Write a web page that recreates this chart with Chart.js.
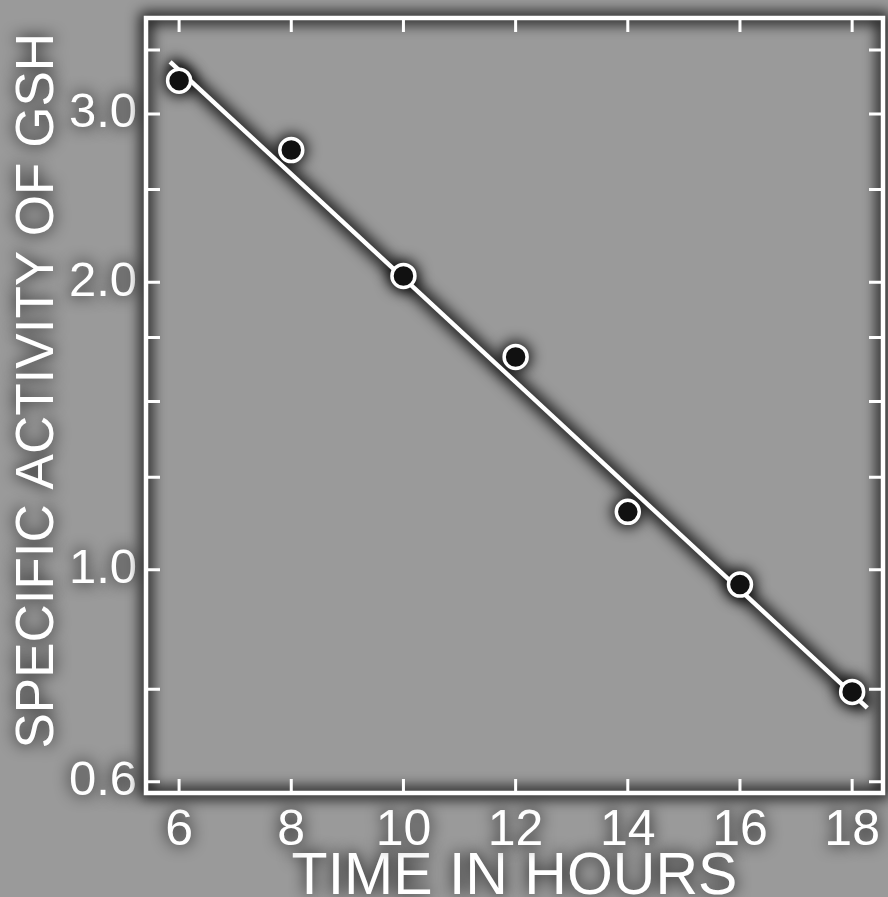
<!DOCTYPE html>
<html>
<head>
<meta charset="utf-8">
<script src="https://cdn.jsdelivr.net/npm/chart.js@4"></script>
<style>
  html, body { margin: 0; padding: 0; background: #9a9a9a; }
  #wrap { width: 888px; height: 897px; }
</style>
</head>
<body>
<div id="wrap"><canvas id="c" width="888" height="897"></canvas></div>
<script>
// ---- data ----
const hours = [6, 8, 10, 12, 14, 16, 18];
const activity = [3.25, 2.75, 2.03, 1.67, 1.15, 0.965, 0.745];
// fitted straight line (on log scale), end points
const fitHours = [5.84, 18.27];
const fitActivity = [3.40, 0.717];
// tick positions / labels
const xTicks = [6, 8, 10, 12, 14, 16, 18];
const yTicks = [0.6, 0.75, 1.0, 1.25, 1.5, 1.75, 2.0, 2.5, 3.0, 3.5];
const yTickLabels = {0.6: '0.6', 1: '1.0', 2: '2.0', 3: '3.0'};
const xTitle = 'TIME IN HOURS';
const yTitle = 'SPECIFIC ACTIVITY OF GSH';

const WHITE = '#ffffff';
const BG = '#9a9a9a';
const FONT = '"Liberation Sans", Arial, sans-serif';

function halo(ctx, drawFn, width) {
  ctx.save();
  ctx.filter = 'blur(7px)';
  ctx.strokeStyle = 'rgba(0,0,0,0.85)';
  ctx.fillStyle = 'rgba(0,0,0,0.85)';
  ctx.lineWidth = width;
  drawFn();
  ctx.restore();
}

const framePlugin = {
  id: 'frame',
  beforeDraw(chart) {
    const ctx = chart.ctx;
    ctx.save();
    ctx.fillStyle = BG;
    ctx.fillRect(0, 0, chart.width, chart.height);
    ctx.restore();
    // dark halo around the white lettering drawn afterwards
    ctx.shadowColor = 'rgba(0,0,0,1)';
    ctx.shadowBlur = 16;
  },
  beforeDatasetsDraw(chart) {
    const {ctx, chartArea: a} = chart;
    ctx.shadowBlur = 0;
    ctx.shadowColor = 'rgba(0,0,0,0)';
    halo(ctx, () => { ctx.strokeRect(a.left, a.top, a.right - a.left, a.bottom - a.top); }, 12);
    const lm = chart.getDatasetMeta(1).data;
    halo(ctx, () => {
      ctx.beginPath();
      ctx.moveTo(lm[0].x, lm[0].y);
      for (let i = 1; i < lm.length; i++) ctx.lineTo(lm[i].x, lm[i].y);
      ctx.stroke();
    }, 14);
    const pm = chart.getDatasetMeta(0).data;
    halo(ctx, () => {
      pm.forEach(p => { ctx.beginPath(); ctx.arc(p.x, p.y, 16, 0, Math.PI * 2); ctx.fill(); });
    }, 1);
  },
  afterDatasetsDraw(chart) {
    const {ctx, chartArea: a, scales: {x, y}} = chart;
    ctx.save();
    ctx.shadowColor = 'rgba(0,0,0,0)';
    ctx.shadowBlur = 0;
    ctx.strokeStyle = WHITE;
    ctx.lineWidth = 4.5;
    ctx.strokeRect(a.left, a.top, a.right - a.left, a.bottom - a.top);
    ctx.lineWidth = 3;
    ctx.beginPath();
    const tl = 14;
    xTicks.forEach(v => {
      const px = x.getPixelForValue(v);
      ctx.moveTo(px, a.bottom); ctx.lineTo(px, a.bottom - tl);
      ctx.moveTo(px, a.top); ctx.lineTo(px, a.top + tl);
    });
    yTicks.forEach(v => {
      const py = y.getPixelForValue(v);
      ctx.moveTo(a.left, py); ctx.lineTo(a.left + tl, py);
      ctx.moveTo(a.right, py); ctx.lineTo(a.right - tl, py);
    });
    ctx.stroke();
    ctx.restore();
  }
};

new Chart(document.getElementById('c'), {
  type: 'scatter',
  data: {
    datasets: [
      {
        label: 'measured',
        data: hours.map((h, i) => ({x: h, y: activity[i]})),
        showLine: false,
        pointRadius: 11.5,
        pointBorderWidth: 3.5,
        pointBorderColor: WHITE,
        pointBackgroundColor: '#111111',
        order: 0
      },
      {
        label: 'fit',
        data: fitHours.map((h, i) => ({x: h, y: fitActivity[i]})),
        showLine: true,
        borderColor: WHITE,
        borderWidth: 4.5,
        pointRadius: 0,
        order: 1
      }
    ]
  },
  options: {
    responsive: false,
    animation: false,
    devicePixelRatio: 1,
    layout: { autoPadding: false, padding: { top: 18, right: 5, bottom: 0, left: 0 } },
    plugins: { legend: { display: false }, tooltip: { enabled: false } },
    scales: {
      x: {
        type: 'linear',
        min: 5.41,
        max: 18.55,
        afterBuildTicks: s => { s.ticks = xTicks.map(v => ({value: v})); },
        afterFit: s => { s.height = 104; s.paddingLeft = 0; s.paddingRight = 0; },
        grid: { display: false, drawTicks: false },
        border: { display: false },
        ticks: {
          color: WHITE,
          padding: 8,
          maxRotation: 0,
          autoSkip: false,
          font: { family: FONT, size: 50 },
          callback: v => String(v)
        },
        title: {
          display: true,
          text: xTitle,
          color: WHITE,
          font: { family: FONT, size: 59, lineHeight: 1 },
          padding: { top: 0, bottom: -10 }
        }
      },
      y: {
        type: 'logarithmic',
        min: 0.584,
        max: 3.78,
        afterBuildTicks: s => { s.ticks = yTicks.map(v => ({value: v})); },
        afterFit: s => { s.width = 146; s.paddingTop = 0; s.paddingBottom = 0; },
        grid: { display: false, drawTicks: false },
        border: { display: false },
        ticks: {
          color: WHITE,
          padding: 9,
          autoSkip: false,
          font: { family: FONT, size: 49 },
          callback: v => yTickLabels[v] !== undefined ? yTickLabels[v] : ''
        },
        title: {
          display: true,
          text: '  ' + yTitle,
          color: WHITE,
          font: { family: FONT, size: 53, lineHeight: 1 },
          padding: { top: 12, bottom: 0 }
        }
      }
    }
  },
  plugins: [framePlugin]
});
</script>
</body>
</html>
